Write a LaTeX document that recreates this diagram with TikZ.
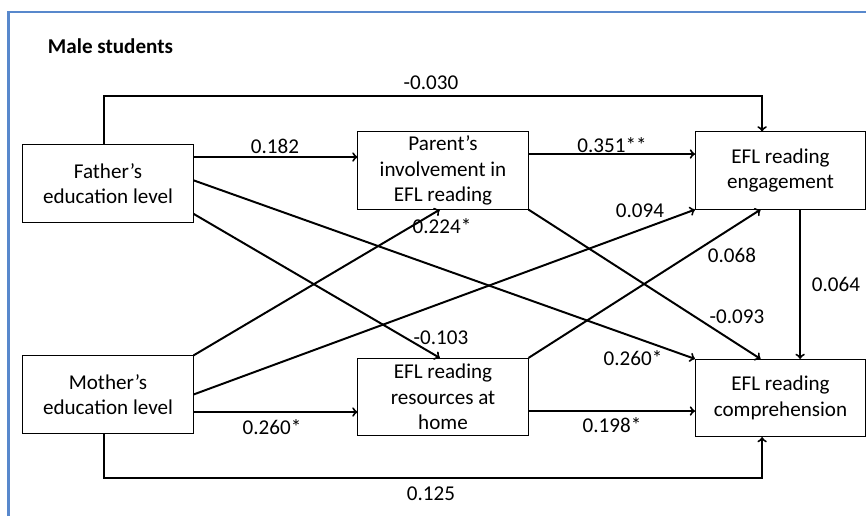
\documentclass[tikz,border=0pt]{standalone}
\usepackage{fontspec}
\setmainfont{Carlito}
\usetikzlibrary{calc}

\begin{document}
\begin{tikzpicture}[x=0.025cm,y=-0.025cm,
  font=\fontsize{15}{18}\selectfont,
  box/.style={draw,line width=0.7pt,minimum width=4.25cm,minimum height=1.93cm,inner sep=0pt,align=center},
  path/.style={line width=1.4pt,->},
  coef/.style={inner sep=1pt}]
\useasboundingbox (0,0) rectangle (866,516);
\draw[line width=1.6pt,color={rgb,255:red,88;green,136;blue,204}] (8.5,516) -- (8.5,12) -- (866,12);

\node[font=\fontsize{15}{18}\bfseries\selectfont,anchor=west] (title) at (43,46) {Male students};

\node[box] (father) at (108,183.5) {Father’s\\education level};
\node[box] (mother) at (108,394.5) {Mother’s\\education level};
\node[box] (parent) at (443,170.5) {Parent’s\\involvement in\\EFL reading};
\node[box] (resources) at (443,397) {EFL reading\\resources at\\home};
\node[box] (engage) at (780.5,170.5) {EFL reading\\engagement};
\node[box] (compr) at (780.5,398) {EFL reading\\comprehension};

% outer paths
\coordinate (ftop) at ([xshift=-0.1cm]father.north);
\coordinate (mbot) at ([xshift=-0.1cm]mother.south);
\draw[path] (ftop) -- (ftop |- 0,96) -| ([xshift=-0.46cm]engage.north);
\draw[path] (mbot) -- (mbot |- 0,478) -| ([xshift=-0.46cm]compr.south);

% straight paths
\draw[path] (father.east |- 0,157) -- (parent.west |- 0,157);
\draw[path] (parent.east |- 0,154) -- (engage.west |- 0,154);
\draw[path] (mother.east |- 0,412) -- (resources.west |- 0,412);
\draw[path] (resources.east |- 0,411) -- (compr.west |- 0,411);
\draw[path] ([xshift=0.49cm]engage.south) -- ([xshift=0.49cm]compr.north);

% crossing paths
\draw[path] ([yshift=0.08cm]father.east) -- (compr.north west);
\draw[path] ([yshift=0.22cm]father.south east) -- ([xshift=-0.08cm]resources.north);
\draw[path] (mother.north east) -- ([xshift=-0.08cm]parent.south);
\draw[path] (mother.east) -- (engage.south west);
\draw[path] (parent.south east) -- ([xshift=-0.5cm]compr.north);
\draw[path] (resources.north east) -- ([xshift=-0.5cm]engage.south);

% coefficients
\node[coef] (c1) at (431,83) {-0.030};
\node[coef] (c2) at (275,146) {0.182};
\node[coef] (c3) at (612,145) {0.351**};
\node[coef] (c4) at (442,226) {0.224*};
\node[coef] (c5) at (640,211) {0.094};
\node[coef] (c6) at (441,338) {-0.103};
\node[coef] (c7) at (732,255) {0.068};
\node[coef] (c8) at (836,284) {0.064};
\node[coef] (c9) at (737,317) {-0.093};
\node[coef] (c10) at (633,358) {0.260*};
\node[coef] (c11) at (272,427) {0.260*};
\node[coef] (c12) at (612,425) {0.198*};
\node[coef] (c13) at (431,494) {0.125};
\end{tikzpicture}
\end{document}
